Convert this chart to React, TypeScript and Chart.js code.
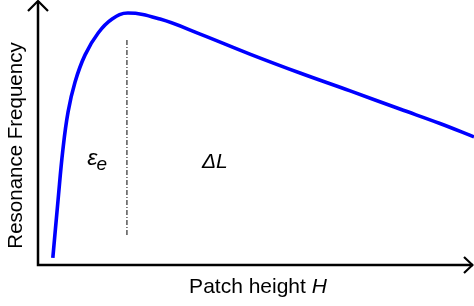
import { useEffect, useRef } from "react";
import { Chart, registerables } from "chart.js";

Chart.register(...registerables);

// Patch height H (arbitrary units) vs. resonance frequency (arbitrary units)
const patchHeight = [0.34, 0.46, 0.57, 0.69, 0.85, 1.08, 1.38, 1.7, 2.06, 2.8, 3.72, 4.86, 6.01, 7.16, 8.3, 9.22, 10];
const resonanceFrequency = [0.27, 2.47, 4.37, 5.82, 6.96, 7.99, 8.82, 9.35, 9.58, 9.35, 8.78, 8.02, 7.3, 6.62, 5.93, 5.38, 4.87];

// Vertical dash-dot divider between the two regimes
const dividerH = [2.04, 2.04];
const dividerF = [1.14, 8.63];

// Region labels
const regionMain = ["ε", "ΔL"];
const regionSub = ["e", ""];
const regionH = [1.13, 3.76];
const regionF = [3.8, 3.69];

const xTitle = "Patch height ";
const xTitleItalic = "H";
const yTitle = "Resonance Frequency";

const FONT = 'Arial, "Liberation Sans", sans-serif';

const decorPlugin = {
  id: "decor",
  afterDraw(chart: any) {
    const { ctx, chartArea, scales } = chart;
    const { left, right, top, bottom } = chartArea;
    ctx.save();
    // axes
    ctx.strokeStyle = "#000";
    ctx.lineWidth = 2.5;
    ctx.lineCap = "butt";
    ctx.beginPath();
    ctx.moveTo(left, top - 1);
    ctx.lineTo(left, bottom);
    ctx.lineTo(right - 1, bottom);
    ctx.stroke();
    // arrow heads
    ctx.lineWidth = 2.2;
    ctx.lineJoin = "miter";
    ctx.beginPath();
    ctx.moveTo(left - 10, top + 9);
    ctx.lineTo(left, top - 1);
    ctx.lineTo(left + 10, top + 9);
    ctx.stroke();
    ctx.beginPath();
    ctx.moveTo(right - 10, bottom - 8);
    ctx.lineTo(right - 1.5, bottom);
    ctx.lineTo(right - 10, bottom + 8);
    ctx.stroke();

    // region labels
    ctx.fillStyle = "#000";
    ctx.textBaseline = "alphabetic";
    ctx.textAlign = "left";
    for (let i = 0; i < regionMain.length; i++) {
      const px = scales.x.getPixelForValue(regionH[i]);
      const py = scales.y.getPixelForValue(regionF[i]);
      ctx.font = `italic ${regionSub[i] ? 23 : 21}px ${FONT}`;
      ctx.fillText(regionMain[i], px, py);
      if (regionSub[i]) {
        const w = ctx.measureText(regionMain[i]).width;
        ctx.font = `italic 19px ${FONT}`;
        ctx.fillText(regionSub[i], px + w - 1, py + 5);
      }
    }

    // x title
    ctx.font = `21px ${FONT}`;
    const w1 = ctx.measureText(xTitle).width;
    ctx.font = `italic 21px ${FONT}`;
    const w2 = ctx.measureText(xTitleItalic).width;
    const cx = (left + right) / 2 + 2;
    const startX = cx - (w1 + w2) / 2;
    const by = bottom + 28;
    ctx.font = `21px ${FONT}`;
    ctx.fillText(xTitle, startX, by);
    ctx.font = `italic 21px ${FONT}`;
    ctx.fillText(xTitleItalic, startX + w1, by);

    // y title
    ctx.save();
    ctx.translate(left - 16, (top + bottom) / 2 + 12);
    ctx.rotate(-Math.PI / 2);
    ctx.textAlign = "center";
    ctx.font = `20.5px ${FONT}`;
    ctx.fillText(yTitle, 0, 0);
    ctx.restore();

    ctx.restore();
  },
};

export default function App() {
  const ref = useRef<HTMLCanvasElement | null>(null);
  useEffect(() => {
    if (!ref.current) return;
    const chart = new Chart(ref.current, {
      type: "line",
      data: {
        datasets: [
          {
            data: patchHeight.map((h, i) => ({ x: h, y: resonanceFrequency[i] })),
            borderColor: "#0000ff",
            borderWidth: 3.6,
            pointRadius: 0,
            tension: 0.4,
            fill: false,
          },
          {
            data: dividerH.map((h, i) => ({ x: h, y: dividerF[i] })),
            borderColor: "#000",
            borderWidth: 1,
            borderDash: [5, 2, 1, 2],
            pointRadius: 0,
            fill: false,
          },
        ],
      },
      options: {
        responsive: false,
        animation: false,
        events: [],
        layout: { padding: { left: 38, right: 0, top: 2, bottom: 41 } },
        plugins: { legend: { display: false }, tooltip: { enabled: false } },
        scales: {
          x: { type: "linear", min: 0, max: 10, display: false },
          y: { type: "linear", min: 0, max: 10, display: false },
        },
      },
      plugins: [decorPlugin],
    } as any);
    return () => chart.destroy();
  }, []);
  return (
    <div style={{ position: "absolute", left: 0, top: 0, width: 474, height: 306, background: "#fff" }}>
      <canvas ref={ref} width={474} height={306} style={{ display: "block" }} />
    </div>
  );
}
